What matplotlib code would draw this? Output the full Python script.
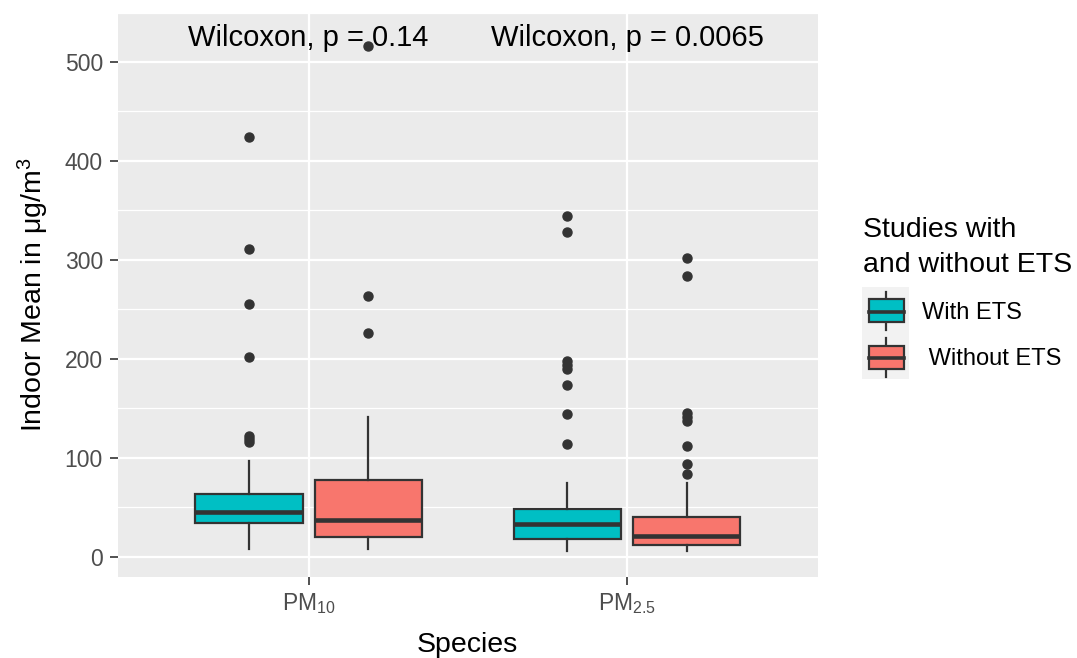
import matplotlib
matplotlib.use("Agg")
import matplotlib.pyplot as plt
from matplotlib.patches import Rectangle
from matplotlib.lines import Line2D

plt.rcParams['font.family'] = ['Liberation Sans', 'DejaVu Sans']
plt.rcParams['mathtext.fontset'] = 'custom'
plt.rcParams['mathtext.rm'] = 'Liberation Sans'
plt.rcParams['mathtext.it'] = 'Liberation Sans:italic'
plt.rcParams['mathtext.bf'] = 'Liberation Sans:bold'

# ---------------- data ----------------
species = ["PM$_{10}$", "PM$_{2.5}$"]
groups = ["With ETS", " Without ETS"]
group_colors = ["#00BFC4", "#F8766D"]

# box statistics per species: [With ETS, Without ETS]
pm10_q1 = [34, 20]
pm10_med = [45, 37]
pm10_q3 = [64, 78]
pm10_whislo = [8, 7.5]
pm10_whishi = [97, 141]
pm10_with_out = [424, 311, 256, 202, 122, 119, 116]
pm10_without_out = [516, 264, 226]

pm25_q1 = [18, 12.5]
pm25_med = [33.5, 21]
pm25_q3 = [48.5, 40]
pm25_whislo = [6, 6]
pm25_whishi = [74.5, 74.5]
pm25_with_out = [344, 328, 198, 194, 190, 174, 144, 114]
pm25_without_out = [302, 284, 145, 141, 137, 112, 94, 84]

p_labels = ["Wilcoxon, p = 0.14", "Wilcoxon, p = 0.0065"]

y_ticks = [0, 100, 200, 300, 400, 500]

# ---------------- figure ----------------
W, H = 1077, 658
fig = plt.figure(figsize=(W / 100, H / 100), dpi=100)
fig.patch.set_facecolor("white")
ax = fig.add_axes([117.5 / W, 1 - 577 / H, (818 - 117.5) / W, (577 - 12.5) / H])
ax.set_facecolor("#EBEBEB")

stats = []
positions = []
colors = []
dodge = 0.1875
bw = 0.3375
all_vals = []
for i, (q1, med, q3, lo, hi, outs) in enumerate([
        (pm10_q1, pm10_med, pm10_q3, pm10_whislo, pm10_whishi, [pm10_with_out, pm10_without_out]),
        (pm25_q1, pm25_med, pm25_q3, pm25_whislo, pm25_whishi, [pm25_with_out, pm25_without_out])]):
    for g in range(2):
        stats.append(dict(med=med[g], q1=q1[g], q3=q3[g], whislo=lo[g], whishi=hi[g],
                          fliers=outs[g]))
        positions.append(i + 1 + (-dodge if g == 0 else dodge))
        colors.append(group_colors[g])
        all_vals += outs[g] + [hi[g]]

edge = "#333333"
bp = ax.bxp(stats, positions=positions, widths=bw, patch_artist=True,
            showcaps=False, manage_ticks=False,
            boxprops=dict(edgecolor=edge, linewidth=1.6),
            whiskerprops=dict(color=edge, linewidth=1.6),
            medianprops=dict(color=edge, linewidth=3.3, solid_capstyle='butt'),
            flierprops=dict(marker='o', markerfacecolor=edge, markeredgecolor=edge,
                            markersize=6.5, linestyle='none'),
            zorder=3)
for patch, c in zip(bp['boxes'], colors):
    patch.set_facecolor(c)

ax.set_xlim(0.4, 2.6)
ax.set_ylim(-20.3, 544)
ax.set_xticks([1, 2])
ax.set_xticklabels(species)
ax.set_yticks(y_ticks)
ax.set_yticks([50, 150, 250, 350, 450, 550], minor=True)
ax.grid(which='major', color='white', linewidth=1.6, zorder=0)
ax.grid(which='minor', axis='y', color='white', linewidth=0.9, zorder=0)
ax.tick_params(axis='y', which='minor', length=0)
ax.set_axisbelow(True)
for s in ax.spines.values():
    s.set_visible(False)
ax.tick_params(axis='both', which='major', length=5.5, width=1.2, color='#333333',
               labelsize=16.5, labelcolor='#4D4D4D', pad=5)

ax.set_xlabel("Species", fontsize=20.5, labelpad=11)
ax.set_ylabel("Indoor Mean in μg/m$^3$", fontsize=20.5, labelpad=10)

label_y = max(all_vals)
for i, lab in enumerate(p_labels):
    ax.text(i + 1, label_y, lab, ha='center', va='baseline', fontsize=21, zorder=5)

# ---------------- legend (manual, in pixel coords) ----------------
def fx(x):
    return x / W

def fy(y):
    return 1 - y / H

fig.text(fx(863), fy(237.5), "Studies with", fontsize=20.5, ha='left', va='baseline')
fig.text(fx(863), fy(271.5), "and without ETS", fontsize=20.5, ha='left', va='baseline')
fig.patches.append(Rectangle((fx(862), fy(379)), fx(909) - fx(862), fy(287) - fy(379),
                             transform=fig.transFigure, facecolor='#F2F2F2', edgecolor='none'))
key_centers = [311, 357]
for k, (yc, c, lab) in enumerate(zip(key_centers, group_colors, groups)):
    fig.patches.append(Rectangle((fx(869), fy(yc + 11.5)), fx(904) - fx(869), fy(yc - 11.5) - fy(yc + 11.5),
                                 transform=fig.transFigure, facecolor=c, edgecolor=edge,
                                 linewidth=1.6, zorder=3))
    fig.lines.append(Line2D([fx(869), fx(904)], [fy(yc + 1), fy(yc + 1)], transform=fig.transFigure,
                            color=edge, linewidth=2.6, zorder=4))
    fig.lines.append(Line2D([fx(885.7), fx(885.7)], [fy(yc - 19.5), fy(yc - 11.5)], transform=fig.transFigure,
                            color=edge, linewidth=1.6))
    fig.lines.append(Line2D([fx(885.7), fx(885.7)], [fy(yc + 11.5), fy(yc + 19.5)], transform=fig.transFigure,
                            color=edge, linewidth=1.6))
    fig.text(fx(922.5), fy(yc + 2), lab, fontsize=17, ha='left', va='center')

fig.savefig("out.png", dpi=100)
